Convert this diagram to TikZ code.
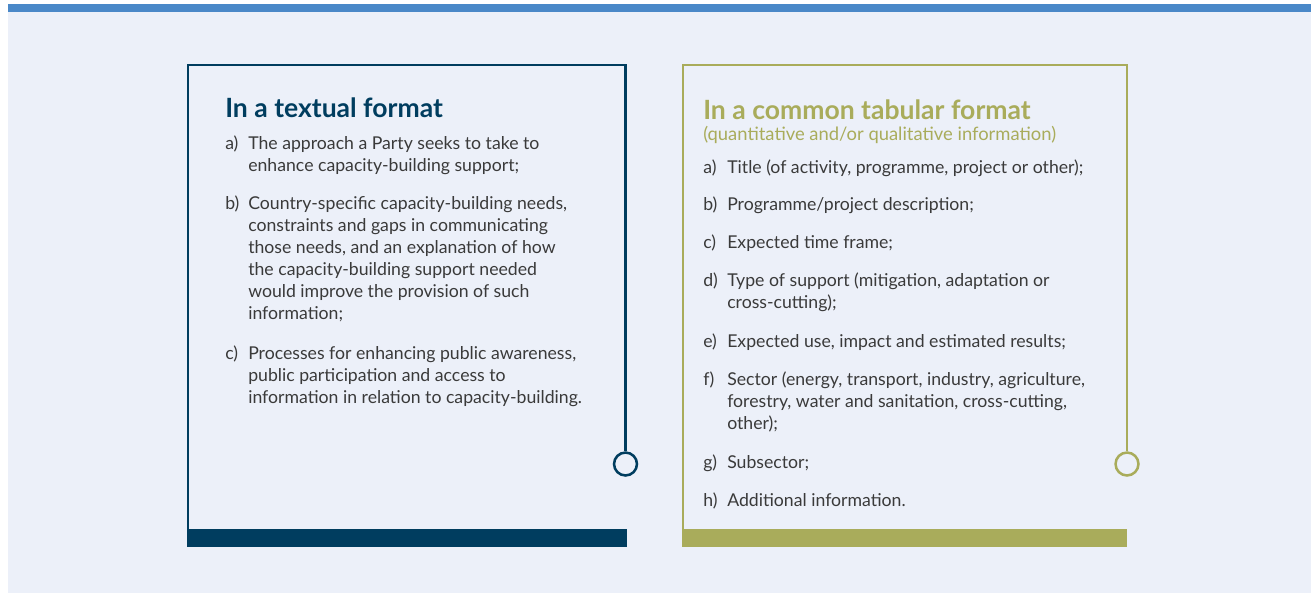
\documentclass[tikz,border=0pt]{standalone}
\usepackage{fontspec}
\setmainfont{Lato}
\usetikzlibrary{positioning}

\definecolor{navy}{HTML}{003D5F}
\definecolor{olive}{HTML}{A9AC5B}
\definecolor{barblue}{HTML}{4A88C8}
\definecolor{pale}{HTML}{ECF0F9}
\definecolor{ink}{HTML}{3A3A3A}

\tikzset{
  head/.style={anchor=base west, inner sep=0pt, font=\fontsize{19.9}{22}\bfseries\selectfont},
  subhead/.style={anchor=base west, inner sep=0pt, text=olive, font=\fontsize{13.8}{15}\selectfont},
  lbl/.style={anchor=base west, inner sep=0pt, text=ink, font=\fontsize{13.25}{16.5}\selectfont},
  % multi-line items: base anchor sits on the last line
  item/.style={anchor=base west, inner sep=0pt, text=ink, align=left, font=\fontsize{13.25}{16.5}\selectfont},
  frame/.style={line width=1.9pt},
  ring/.style={circle, draw, line width=1.9pt, minimum size=17.2pt, inner sep=0pt},
}

\begin{document}
\begin{tikzpicture}[x=0.75pt, y=-0.75pt]
  \useasboundingbox (0,0) rectangle (1314,593);
  % backdrop and top rule
  \fill[pale] (8,4) rectangle (1311,593);
  \fill[barblue] (8,4) rectangle (1311,12);

  % left panel
  \node[ring, draw=navy] (endL) at (625.5,464) {};
  \draw[frame, navy] (188,530) -- (188,65) -- (625.5,65) -- (endL.north);
  \fill[navy] (187,529) rectangle (626.5,547);
  \node[head, text=navy] (titleL) at (225,117) {In a textual format};
  \node[lbl] (la) at (225,149) {a)};
  \node[item] (ta) at (248,171) {The approach a Party seeks to take to\\enhance capacity-building support;};
  \node[lbl] (lb) at (225,209.5) {b)};
  \node[item] (tb) at (248,319.5) {Country-specific capacity-building needs,\\constraints and gaps in communicating\\those needs, and an explanation of how\\the capacity-building support needed\\would improve the provision of such\\information;};
  \node[lbl] (lc) at (225,359.5) {c)};
  \node[item] (tc) at (248,403.5) {Processes for enhancing public awareness,\\public participation and access to\\information in relation to capacity-building.};

  % right panel
  \node[ring, draw=olive] (endR) at (1127,464) {};
  \draw[frame, olive] (683,530) -- (683,65) -- (1127,65) -- (endR.north);
  \fill[olive] (682,529) rectangle (1127,547);
  \node[head, text=olive] (titleR) at (703,119) {In a common tabular format};
  \node[subhead] (subR) at (703,140) {(quantitative and/or qualitative information)};
  \node[lbl] (ra) at (703,173.5) {a)};
  \node[item] (sa) at (727,173.5) {Title (of activity, programme, project or other);};
  \node[lbl] (rb) at (703,210.5) {b)};
  \node[item] (sb) at (727,210.5) {Programme/project description;};
  \node[lbl] (rc) at (703,248.5) {c)};
  \node[item] (sc) at (727,248.5) {Expected time frame;};
  \node[lbl] (rd) at (703,286.5) {d)};
  \node[item] (sd) at (727,308.5) {Type of support (mitigation, adaptation or\\cross-cutting);};
  \node[lbl] (re) at (703,347.5) {e)};
  \node[item] (se) at (727,347.5) {Expected use, impact and estimated results;};
  \node[lbl] (rf) at (703,385.5) {f)};
  \node[item] (sf) at (727,429.5) {Sector (energy, transport, industry, agriculture,\\forestry, water and sanitation, cross-cutting,\\other);};
  \node[lbl] (rg) at (703,468.5) {g)};
  \node[item] (sg) at (727,468.5) {Subsector;};
  \node[lbl] (rh) at (703,506.5) {h)};
  \node[item] (sh) at (727,506.5) {Additional information.};
\end{tikzpicture}
\end{document}
